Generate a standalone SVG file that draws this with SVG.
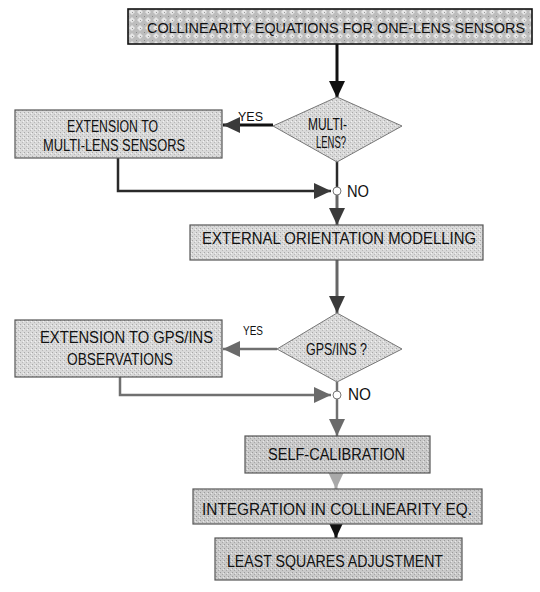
<svg xmlns="http://www.w3.org/2000/svg" width="540" height="592" viewBox="0 0 540 592">
  <defs>
    <!-- dense stipple used for the headline box -->
    <pattern id="lattice" width="8" height="8" patternUnits="userSpaceOnUse">
      <rect width="8" height="8" fill="#bdbdbd"/>
      <path d="M4 1 L7 4 L4 7 L1 4 Z" fill="#e6e6e6"/>
      <rect x="0" y="0" width="1" height="1" fill="#8a8a8a"/>
      <rect x="4" y="4" width="1" height="1" fill="#9a9a9a"/>
    </pattern>
    <!-- light stipple used for ordinary process boxes -->
    <pattern id="stipple" width="4" height="4" patternUnits="userSpaceOnUse">
      <rect width="4" height="4" fill="#d9d9d9"/>
      <rect x="0" y="0" width="1" height="1" fill="#a8a8a8"/>
      <rect x="2" y="2" width="1" height="1" fill="#b8b8b8"/>
      <rect x="3" y="1" width="1" height="1" fill="#f2f2f2"/>
    </pattern>
    <pattern id="stippleDark" width="4" height="4" patternUnits="userSpaceOnUse">
      <rect width="4" height="4" fill="#cacaca"/>
      <rect x="0" y="0" width="1" height="1" fill="#9a9a9a"/>
      <rect x="2" y="2" width="1" height="1" fill="#a6a6a6"/>
      <rect x="3" y="1" width="1" height="1" fill="#e8e8e8"/>
    </pattern>
    <marker id="ahBlack" markerUnits="userSpaceOnUse" markerWidth="18" markerHeight="16" viewBox="0 0 18 16" refX="17" refY="8" orient="auto">
      <path d="M0 0 L17 8 L0 16 Z" fill="#111"/>
    </marker>
    <marker id="ahDark" markerUnits="userSpaceOnUse" markerWidth="18" markerHeight="16" viewBox="0 0 18 16" refX="17" refY="8" orient="auto">
      <path d="M0 0 L17 8 L0 16 Z" fill="#3a3a3a"/>
    </marker>
    <marker id="ahGray" markerUnits="userSpaceOnUse" markerWidth="18" markerHeight="16" viewBox="0 0 18 16" refX="17" refY="8" orient="auto">
      <path d="M0 0 L17 8 L0 16 Z" fill="#6a6a6a"/>
    </marker>
    <marker id="ahLight" markerUnits="userSpaceOnUse" markerWidth="18" markerHeight="16" viewBox="0 0 18 16" refX="17" refY="8" orient="auto">
      <path d="M0 0 L17 8 L0 16 Z" fill="#a9a9a9"/>
    </marker>
  </defs>
  <style>
    text { font-family: "Liberation Sans", Arial, sans-serif; fill: #111; }
    .lbl { font-size: 16px; }
    .head { font-size: 15px; }
    .small { font-size: 13px; }
    .box { fill: url(#stipple); stroke: #555; stroke-width: 1.2; }
    .boxD { fill: url(#stippleDark); stroke: #555; stroke-width: 1.2; }
    .dec { fill: url(#stipple); stroke: #777; stroke-width: 1; }
    .c { fill: none; stroke-linejoin: miter; }
    .k { stroke: #111; stroke-width: 3; }
    .d { stroke: #2a2a2a; stroke-width: 2.5; }
    .g { stroke: #666; stroke-width: 3; }
    .gl { stroke: #707070; stroke-width: 2.5; }
    .l { stroke: #aaa; stroke-width: 3; }
    .junc { fill: #fff; stroke: #777; stroke-width: 1; }
  </style>

  <!-- connectors -->
  <g id="connectors">
    <line class="c k" x1="337" y1="44" x2="337" y2="98" marker-end="url(#ahBlack)"/>
    <line class="c k" x1="273" y1="125" x2="223" y2="125" marker-end="url(#ahDark)"/>
    <polyline class="c d" points="118,158 118,191 331,191" marker-end="url(#ahDark)"/>
    <line class="c d" x1="337" y1="161" x2="337" y2="187"/>
    <line class="c g" x1="337" y1="195" x2="337" y2="225" marker-end="url(#ahDark)"/>
    <line class="c g" x1="337" y1="260" x2="337" y2="313" marker-end="url(#ahDark)"/>
    <line class="c gl" x1="277" y1="349" x2="223" y2="349" marker-end="url(#ahGray)"/>
    <polyline class="c gl" points="120,377 120,395 331,395" marker-end="url(#ahGray)"/>
    <line class="c gl" x1="337" y1="382" x2="337" y2="391"/>
    <line class="c gl" x1="337" y1="399" x2="337" y2="436" marker-end="url(#ahGray)"/>
    <line class="c l" x1="336" y1="473" x2="336" y2="489" marker-end="url(#ahLight)"/>
    <line class="c k" x1="336" y1="524" x2="336" y2="538" marker-end="url(#ahBlack)"/>
    <circle class="junc" cx="337" cy="191" r="4"/>
    <circle class="junc" cx="337" cy="395" r="4"/>
  </g>

  <g id="n-collinearity">
    <rect x="128" y="9" width="404" height="35" fill="url(#lattice)" stroke="#111" stroke-width="1.6"/>
    <text class="head" x="147" y="33" textLength="378" lengthAdjust="spacingAndGlyphs">COLLINEARITY EQUATIONS FOR ONE-LENS SENSORS</text>
  </g>

  <g id="n-multilens">
    <path class="dec" d="M337 97 L402 126 L337 162 L273 126 Z"/>
    <text class="lbl" x="308" y="130" textLength="39" lengthAdjust="spacingAndGlyphs">MULTI-</text>
    <text class="lbl" x="316" y="148" textLength="30" lengthAdjust="spacingAndGlyphs">LENS?</text>
    <text class="small" x="238" y="121" textLength="25" lengthAdjust="spacingAndGlyphs">YES</text>
    <text class="lbl" x="347" y="197" textLength="22" lengthAdjust="spacingAndGlyphs">NO</text>
  </g>

  <g id="n-ext-multilens">
    <rect class="box" x="15" y="110" width="207" height="48"/>
    <text class="lbl" x="67" y="132" textLength="91" lengthAdjust="spacingAndGlyphs">EXTENSION TO</text>
    <text class="lbl" x="43" y="151" textLength="142" lengthAdjust="spacingAndGlyphs">MULTI-LENS SENSORS</text>
  </g>

  <g id="n-external-orientation">
    <rect class="box" x="190" y="225" width="293" height="35"/>
    <text class="lbl" x="202" y="244" textLength="274" lengthAdjust="spacingAndGlyphs">EXTERNAL ORIENTATION MODELLING</text>
  </g>

  <g id="n-gpsins">
    <path class="dec" d="M337 313 L402 349 L337 382 L277 349 Z"/>
    <text class="lbl" x="306" y="355" textLength="61" lengthAdjust="spacingAndGlyphs">GPS/INS ?</text>
    <text class="small" x="243" y="335" textLength="20" lengthAdjust="spacingAndGlyphs">YES</text>
    <text class="lbl" x="348" y="400" textLength="23" lengthAdjust="spacingAndGlyphs">NO</text>
  </g>

  <g id="n-ext-gpsins">
    <rect class="box" x="15" y="320" width="207" height="57"/>
    <text class="lbl" x="40" y="343" textLength="173" lengthAdjust="spacingAndGlyphs">EXTENSION TO GPS/INS</text>
    <text class="lbl" x="67" y="365" textLength="106" lengthAdjust="spacingAndGlyphs">OBSERVATIONS</text>
  </g>

  <g id="n-self-calibration">
    <rect class="boxD" x="245" y="436" width="185" height="37"/>
    <text class="lbl" x="268" y="460" textLength="137" lengthAdjust="spacingAndGlyphs">SELF-CALIBRATION</text>
  </g>

  <g id="n-integration">
    <rect class="boxD" x="193" y="489" width="289" height="35"/>
    <text class="lbl" x="202" y="515" textLength="270" lengthAdjust="spacingAndGlyphs">INTEGRATION IN COLLINEARITY EQ.</text>
  </g>

  <g id="n-least-squares">
    <rect class="boxD" x="215" y="538" width="247" height="42"/>
    <text class="lbl" x="227" y="567" textLength="216" lengthAdjust="spacingAndGlyphs">LEAST SQUARES ADJUSTMENT</text>
  </g>
</svg>
